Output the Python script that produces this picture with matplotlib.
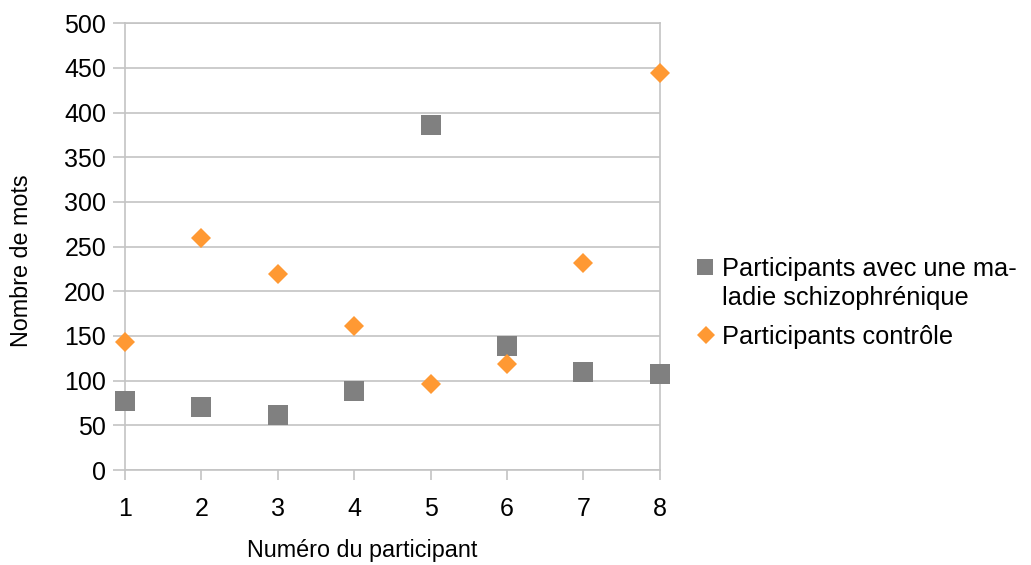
import matplotlib
matplotlib.use("Agg")
import matplotlib.pyplot as plt
from matplotlib.lines import Line2D

plt.rcParams['font.family'] = ['Liberation Sans', 'DejaVu Sans']

participants = [1, 2, 3, 4, 5, 6, 7, 8]
schizo = [77, 70, 62, 88, 386, 139, 110, 107]
controle = [143, 260, 219, 161, 96, 119, 232, 444]
label_schizo_1 = "Participants avec une ma-"
label_schizo_2 = "ladie schizophrénique"
label_controle = "Participants contrôle"
yticks = [0, 50, 100, 150, 200, 250, 300, 350, 400, 450, 500]

gray = '#808080'
orange = '#ff9933'
grid_c = '#c4c4c4'

W, H = 1031, 565
fig = plt.figure(figsize=(W / 100, H / 100), dpi=100)

# plot area in pixel coordinates
x0, x1, y_top, y_bot = 125, 659.7, 23.3, 470
ax = fig.add_axes([x0 / W, 1 - y_bot / H, (x1 - x0) / W, (y_bot - y_top) / H])

ax.plot(participants, schizo, linestyle='none', marker='s', markersize=14.4,
        color=gray, markeredgewidth=0, zorder=3, clip_on=False)
ax.plot(participants, controle, linestyle='none', marker='D', markersize=9.8,
        color=orange, markeredgewidth=0, zorder=4, clip_on=False)

ax.set_xlim(1, 8)
ax.set_ylim(0, 500)
ax.set_xticks(participants)
ax.set_yticks(yticks)
ax.yaxis.grid(True, color=grid_c, linewidth=1.2)
ax.set_axisbelow(True)
for s in ax.spines.values():
    s.set_color(grid_c)
    s.set_linewidth(1.2)
ax.tick_params(axis='both', colors=grid_c, labelcolor='black', labelsize=18,
               width=1.2)
ax.tick_params(axis='x', length=7.2, pad=12)
ax.tick_params(axis='y', length=8.6, pad=5)


def fx(px):
    return px / W


def fy(py):
    return 1 - py / H


# axis titles
fig.text(fx(362), fy(557), "Numéro du participant", fontsize=16.8,
         ha='center', va='baseline')
fig.text(fx(22), fy(260.5), "Nombre de mots", fontsize=16.8,
         ha='center', va='center', rotation=90)

# legend
fig.add_artist(Line2D([fx(705)], [fy(266.5)], marker='s', markersize=12,
                      color=gray, markeredgewidth=0, transform=fig.transFigure))
fig.add_artist(Line2D([fx(706)], [fy(335)], marker='D', markersize=9.2,
                      color=orange, markeredgewidth=0, transform=fig.transFigure))
fig.text(fx(722), fy(276), label_schizo_1, fontsize=18.3, va='baseline', ha='left')
fig.text(fx(722), fy(305), label_schizo_2, fontsize=18.3, va='baseline', ha='left')
fig.text(fx(722), fy(344), label_controle, fontsize=18.3, va='baseline', ha='left')

fig.savefig("out.png", dpi=100, facecolor='white')
